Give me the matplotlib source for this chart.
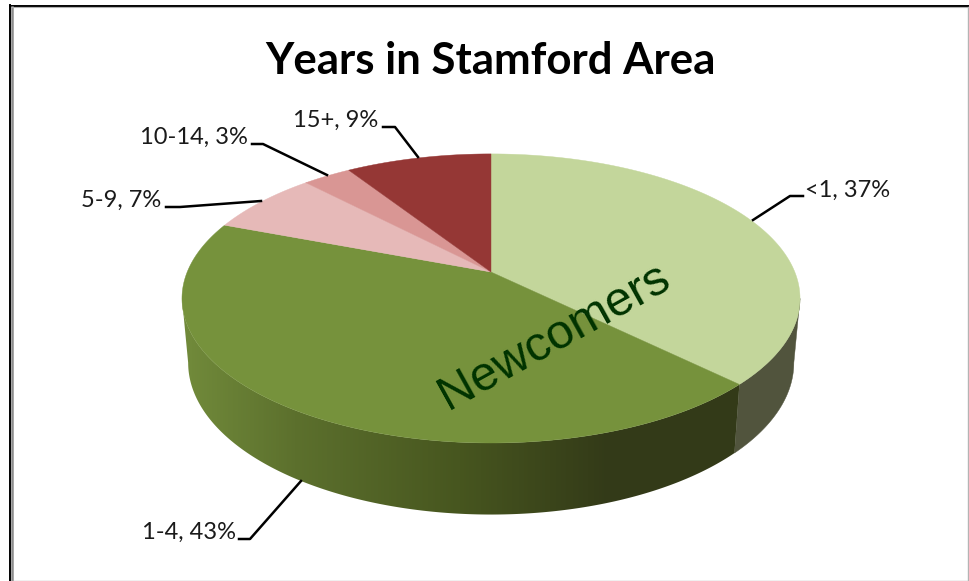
import numpy as np
import matplotlib
matplotlib.use('Agg')
import matplotlib.pyplot as plt
from matplotlib.colors import LinearSegmentedColormap

categories = ['<1', '1-4', '5-9', '10-14', '15+']
percents = [37, 43, 7, 3, 9]
colors = ['#c3d69b', '#76923c', '#e6b9b8', '#d99694', '#953735']

# perspective of the pie, in pixels
cx, cy = 491, 272
a, b, k = 139.7, 303.8, 0.183


def top_rim(theta):
    x, y = np.sin(theta), np.cos(theta)
    w = 1 + k * y
    return cx + b * x / w, cy - a * y / w


def bottom_rim(theta):
    x, y = np.sin(theta), np.cos(theta)
    w = 1 + k * y
    return cx + 0.98 * b * x / w, 335 + 1.05 * a * -y / w


def side_outline(t0, t1):
    th = np.linspace(t0, t1, 300)
    xt, yt = top_rim(th)
    xb, yb = bottom_rim(th[::-1])
    return np.r_[xt, xb], np.r_[yt, yb]


fig = plt.figure(figsize=(9.69, 5.81), dpi=100)
ax = fig.add_axes([0, 0, 1, 1])
ax.set_xlim(0, 969)
ax.set_ylim(581, 0)
ax.axis('off')

# window frame
ax.plot([10, 10], [5, 581], color='black', lw=1.4, zorder=1)
ax.plot([10, 969], [5.5, 5.5], color='black', lw=1.4, zorder=1)
ax.plot([12.5, 12.5], [7, 581], color='#8c8c8c', lw=1.8, zorder=1)
ax.plot([12, 969], [7.3, 7.3], color='#b0b0b0', lw=0.8, zorder=1)
ax.plot([968.5, 968.5], [7, 581], color='#b4b4b4', lw=1, zorder=1)
ax.plot([12, 969], [580.5, 580.5], color='#b4b4b4', lw=1, zorder=1)

edges = 2 * np.pi * np.cumsum([0] + percents) / sum(percents)

# side of the pie: flat on the first slice, shaded left to right on the second
right_limit = np.arccos(-k)
left_limit = 2 * np.pi - right_limit

xs, ys = side_outline(right_limit, edges[1])
ax.fill(xs, ys, facecolor='#51543d', edgecolor='#51543d', lw=0.3, zorder=2)

shade = LinearSegmentedColormap.from_list(
    'side', [(0, '#70893a'), (0.25, '#5c702d'), (0.64, '#47561f'),
             (1, '#333a18')])
xs, ys = side_outline(edges[1], left_limit)
grad = ax.imshow(np.clip((np.arange(170, 760) - 190) / 420, 0, 1)[None, :],
                 cmap=shade, vmin=0, vmax=1, extent=(170, 760, 530, 280),
                 aspect='auto', zorder=2)
clip = ax.fill(xs, ys, facecolor='none', edgecolor='none', zorder=2)[0]
grad.set_clip_path(clip)
ax.set_xlim(0, 969)
ax.set_ylim(581, 0)

# top face
for i, c in enumerate(colors):
    th = np.linspace(edges[i], edges[i + 1], 200)
    xs, ys = top_rim(th)
    ax.fill(np.r_[cx, xs], np.r_[cy, ys], facecolor=c, edgecolor=c, lw=0.3,
            zorder=3)

# labels with their leader lines
label_pos = [(805, 197, 'left'), (236, 539, 'right'), (161, 207, 'right'),
             (248, 144, 'right'), (378, 127, 'right')]
leaders = [[(803, 196), (790, 196), (753, 220)],
           [(239, 539), (250, 539), (301, 481)],
           [(166, 207), (180, 207), (261, 201)],
           [(252, 144), (263, 144), (327, 175)],
           [(383, 127), (395, 127), (418, 157)]]
for name, p, pos, line in zip(categories, percents, label_pos, leaders):
    ax.text(pos[0], pos[1], f'{name}, {p}%', ha=pos[2], va='baseline',
            family='Lato', fontsize=17, color='#1a1a1a', zorder=5)
    ax.plot(*zip(*line), color='black', lw=1.8, zorder=4)

ax.text(490, 73.5, 'Years in Stamford Area', ha='center', va='baseline',
        family='Lato', fontweight='bold', fontsize=31.5, color='black')
ax.text(554, 337, 'Newcomers', ha='center', va='center', rotation=29,
        rotation_mode='anchor', family='Liberation Sans', fontsize=35,
        color='#003300', zorder=6)

fig.savefig('out.png', dpi=100)
